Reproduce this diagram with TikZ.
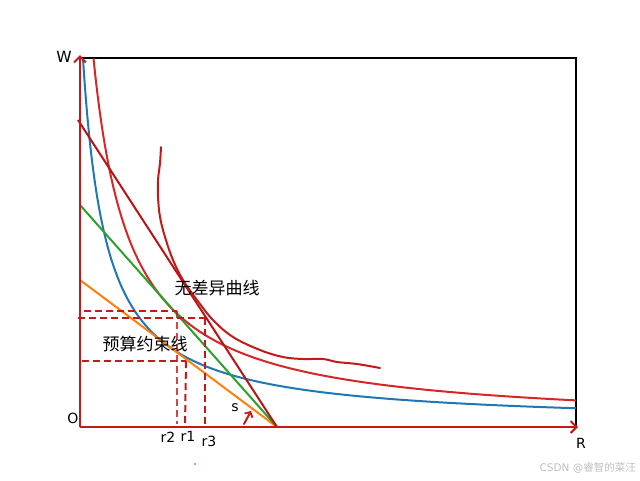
\documentclass[tikz,border=0pt]{standalone}
\usepackage{fontspec}
\setmainfont{DejaVu Sans}
\newfontfamily\cjk{Noto Sans CJK SC}
\usetikzlibrary{arrows.meta}
\definecolor{mblue}{HTML}{1F77B4}
\definecolor{morange}{HTML}{FF7F0E}
\definecolor{mgreen}{HTML}{2CA02C}
\definecolor{mred}{HTML}{D62728}
\definecolor{hand}{RGB}{195,25,25}
\definecolor{dline}{RGB}{185,20,20}
\definecolor{wm}{RGB}{190,190,190}
\tikzset{
  curve/.style={line width=2pt},
  handline/.style={hand, line width=2pt, line cap=round, line join=round},
  dashline/.style={hand, line width=2pt, dash pattern=on 7pt off 4pt},
  axisarrow/.style={hand, line width=2.4pt, -{Straight Barb[length=6pt,width=12pt,line width=2pt]}},
  lab/.style={inner sep=0pt, font=\fontsize{14}{16}\selectfont},
  cjklab/.style={inner sep=0pt, font=\cjk\fontsize{17}{19}\selectfont},
}
\begin{document}
\begin{tikzpicture}[x=1pt,y=-1pt]
\useasboundingbox (0,0) rectangle (640,480);
% frame (matplotlib spines)
\coordinate (TL) at (80,58);
\coordinate (TR) at (576,58);
\coordinate (BR) at (576,427);
\draw[black, line width=1.1pt] (TL) -- (TR) -- (BR);
% curves
\draw[curve, mblue] plot[domain=3:496, samples=300, smooth] ({80+\x},{427-(8550/(\x+20.36)+2.2)});
\draw[curve, mred] plot[domain=13.5:496, samples=300, smooth] ({80+\x},{427-(13600/(\x+23.44)+0.44)});
% budget lines
\coordinate (P) at (277,427);
\coordinate (Lo) at (80,280);
\coordinate (Lg) at (80,205);
\coordinate (Ld) at (78,120);
\draw[curve, morange] (Lo) -- (P);
\draw[curve, mgreen] (Lg) -- (P);
\draw[curve, dline] (Ld) -- (P);
% freehand indifference curve
\draw[handline] plot[smooth, tension=0.6] coordinates {(161,147) (160,163) (158,180) (158,197) (160,217) (165,237) (173,260) (183,280) (197,300) (213,320) (233,337) (260,350) (283,357) (303,359) (323,359) (337,362) (357,364) (380,368)};
% axes (hand drawn)
\coordinate (O) at (80,427);
\coordinate (Wtop) at (80,55);
\coordinate (Rend) at (578,427);
\draw[axisarrow] (O) -- (Wtop);
\draw[axisarrow] (O) -- (Rend);
% dashed guides
\coordinate (a1) at (84,311); \coordinate (a2) at (177,311);
\coordinate (b1) at (78,318); \coordinate (b2) at (206,318);
\coordinate (c1) at (82,361); \coordinate (c2) at (186,361);
\coordinate (a3) at (177,424);
\coordinate (c3) at (185,427);
\coordinate (b0) at (205,318);
\coordinate (b3) at (205,427);
\draw[dashline] (a1) -- (a2);
\draw[dashline] (b1) -- (b2);
\draw[dashline] (c1) -- (c2);
\draw[dashline, opacity=0.8] (a2) -- (a3);
\draw[dashline] (c2) -- (c3);
\draw[dashline] (b0) -- (b3);
% small s arrow
\coordinate (s1) at (244,424);
\coordinate (s2) at (251,411);
\draw[handline, -{Straight Barb[length=4pt,width=9pt,line width=1.8pt]}] (s1) -- (s2);
% stray dot
\fill[hand] (195,464) circle (0.9);
% labels
\node[lab, font=\fontsize{15.5}{17}\selectfont] (W) at (64,57) {W};
\node[lab] (Olab) at (73,418) {O};
\node[lab] (R) at (581,443) {R};
\node[lab] (r2) at (168,437) {r2};
\node[lab] (r1) at (188,436) {r1};
\node[lab] (r3) at (209,441) {r3};
\node[lab] (s) at (235,408) {s};
\node[cjklab] (ic) at (217,288) {无差异曲线};
\node[cjklab] (bl) at (145,344) {预算约束线};
\node[inner sep=0pt, anchor=east, text=wm, font=\fontsize{10.5}{12}\selectfont] (wmk) at (636,468) {CSDN @{\cjk 睿智的菜汪}};
\end{tikzpicture}
\end{document}
